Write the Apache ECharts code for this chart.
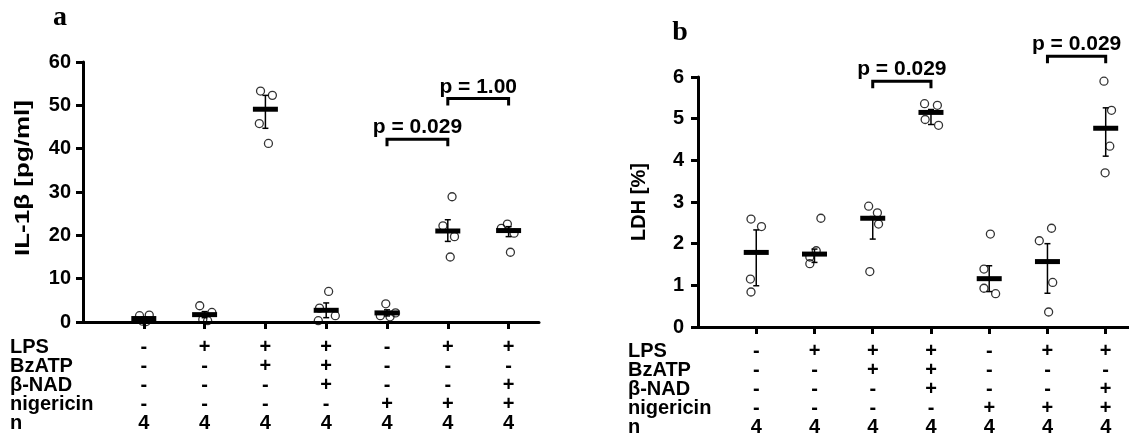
<!DOCTYPE html>
<html>
<head>
<meta charset="utf-8">
<script src="https://cdn.jsdelivr.net/npm/echarts@6/dist/echarts.min.js"></script>
<style>html,body{margin:0;padding:0;background:#fff}#chart{width:1129px;height:439px}</style>
</head>
<body>
<div id="chart"></div>
<script>
// treatment table, same for both panels
var lps       = ['-', '+', '+', '+', '-', '+', '+'];
var bzatp     = ['-', '-', '+', '+', '-', '-', '-'];
var bnad      = ['-', '-', '-', '+', '-', '-', '+'];
var nigericin = ['-', '-', '-', '-', '+', '+', '+'];
var nCount    = [4, 4, 4, 4, 4, 4, 4];
var rowNames  = ['LPS', 'BzATP', 'β-NAD', 'nigericin', 'n'];

// panel a : IL-1β [pg/ml]
var ilPoints = [[1.45, 1.6, 0.2, 0.1], [3.75, 2.2, 0.6, 0.3], [53.3, 52.3, 45.8, 41.2], [7.05, 3.2, 1.45, 0.3],
                [4.2, 2.1, 1.45, 1.2], [28.9, 22.2, 19.7, 15.0], [22.6, 21.6, 20.5, 16.1]];
var ilJitter = [[-0.07, 0.09, -0.02, 0.04], [-0.08, 0.12, -0.03, 0.05], [-0.08, 0.115, -0.10, 0.05], [0.04, -0.11, 0.15, -0.13],
                [-0.02, 0.14, -0.11, 0.05], [0.07, -0.08, 0.11, 0.04], [-0.02, -0.12, 0.09, 0.03]];
var ilMean = [0.8, 1.7, 49.1, 2.7, 2.1, 21.0, 21.1];
var ilLow  = [0.4, 1.0, 44.7, 1.0, 1.4, 18.6, 19.7];
var ilHigh = [1.2, 2.4, 52.3, 4.4, 2.8, 23.6, 22.0];
var ilBrackets = [[5, 6, 42.2, 'p = 0.029'], [6, 7, 51.6, 'p = 1.00']];

// panel b : LDH [%]
var ldhPoints = [[2.59, 2.41, 1.15, 0.84], [2.61, 1.83, 1.68, 1.52], [2.90, 2.74, 2.47, 1.33], [5.36, 5.32, 4.98, 4.84],
                 [2.23, 1.39, 0.93, 0.80], [2.37, 2.07, 1.07, 0.36], [5.90, 5.20, 4.34, 3.70]];
var ldhJitter = [[-0.09, 0.09, -0.10, -0.09], [0.11, 0.03, -0.08, -0.08], [-0.07, 0.08, 0.10, -0.05], [-0.11, 0.11, -0.10, 0.13],
                 [0.02, -0.09, -0.09, 0.11], [0.07, -0.14, 0.09, 0.02], [-0.03, 0.10, 0.07, -0.01]];
var ldhMean = [1.79, 1.75, 2.61, 5.15, 1.16, 1.57, 4.77];
var ldhLow  = [0.99, 1.55, 2.11, 4.86, 0.85, 0.81, 4.10];
var ldhHigh = [2.33, 1.87, 2.65, 5.22, 1.47, 2.00, 5.26];
var ldhBrackets = [[3, 4, 5.90, 'p = 0.029'], [6, 7, 6.50, 'p = 0.029']];

var FONT = "'Liberation Sans', Arial, sans-serif";
var catValues = [1, 2, 3, 4, 5, 6, 7];

function tableLabel(v) {
    var i = Math.round(v) - 1;
    if (i < 0 || i > 6) return '';
    return [lps[i], bzatp[i], bnad[i], nigericin[i], nCount[i]].join('\n');
}

function renderMean(params, api) {
    var x = api.value(0);
    var c = api.coord([x, api.value(1)]);
    var lo = api.coord([x, api.value(2)]);
    var hi = api.coord([x, api.value(3)]);
    var thin = {stroke: '#000', lineWidth: 1.5};
    return {
        type: 'group',
        children: [
            {type: 'line', shape: {x1: c[0], y1: lo[1], x2: c[0], y2: hi[1]}, style: thin},
            {type: 'line', shape: {x1: c[0] - 3, y1: lo[1], x2: c[0] + 3, y2: lo[1]}, style: thin},
            {type: 'line', shape: {x1: c[0] - 3, y1: hi[1], x2: c[0] + 3, y2: hi[1]}, style: thin},
            {type: 'line', shape: {x1: c[0] - 12.5, y1: c[1], x2: c[0] + 12.5, y2: c[1]}, style: {stroke: '#000', lineWidth: 5}}
        ]
    };
}

function bracketRenderer(list) {
    return function (params, api) {
        var a = api.coord([api.value(0), api.value(2)]);
        var b = api.coord([api.value(1), api.value(2)]);
        return {
            type: 'group',
            children: [
                {type: 'polyline', shape: {points: [[a[0], a[1] + 7], [a[0], a[1]], [b[0], b[1]], [b[0], b[1] + 7]]},
                 style: {stroke: '#000', lineWidth: 3, fill: null}},
                {type: 'text', x: (a[0] + b[0]) / 2, y: a[1] - 1,
                 style: {text: list[params.dataIndex][3], font: 'bold 21px ' + FONT, fill: '#000',
                         align: 'center', verticalAlign: 'bottom', textAlign: 'center', textVerticalAlign: 'bottom'}}
            ]
        };
    };
}

function panelSeries(idx, points, jitter, mean, low, high, brackets) {
    var pts = [];
    for (var g = 0; g < points.length; g++) {
        for (var j = 0; j < points[g].length; j++) {
            pts.push([g + 1 + jitter[g][j], points[g][j]]);
        }
    }
    var bars = [];
    for (var i = 0; i < mean.length; i++) bars.push([i + 1, mean[i], low[i], high[i]]);
    return [
        {type: 'custom', xAxisIndex: idx, yAxisIndex: idx, renderItem: renderMean, data: bars, z: 2, clip: false},
        {type: 'scatter', xAxisIndex: idx, yAxisIndex: idx, data: pts, symbol: 'circle', symbolSize: 8, z: 3,
         itemStyle: {color: 'rgba(255,255,255,0)', borderColor: '#000', borderWidth: 1.3}},
        {type: 'custom', xAxisIndex: idx, yAxisIndex: idx, renderItem: bracketRenderer(brackets), clip: false, z: 4,
         data: brackets.map(function (b) { return [b[0], b[1], b[2]]; })}
    ];
}

function xAxisFor(idx, max, margin) {
    return {
        type: 'value', gridIndex: idx, min: 0, max: max, interval: 1,
        splitLine: {show: false},
        axisLine: {onZero: false, lineStyle: {color: '#000', width: 3}},
        axisTick: {customValues: catValues, length: 7, lineStyle: {color: '#000', width: 3}},
        axisLabel: {customValues: catValues, formatter: tableLabel, margin: margin, lineHeight: 19,
                    fontSize: 20, fontWeight: 'bold', color: '#000', fontFamily: FONT}
    };
}

function yAxisFor(idx, max, interval, margin) {
    return {
        type: 'value', gridIndex: idx, min: 0, max: max, interval: interval,
        splitLine: {show: false},
        axisLine: {show: true, lineStyle: {color: '#000', width: 3}},
        axisTick: {show: true, length: 7, lineStyle: {color: '#000', width: 3}},
        axisLabel: {margin: margin, fontSize: 20, fontWeight: 'bold', color: '#000', fontFamily: FONT}
    };
}

function txt(text, x, y, font, extra) {
    var el = {type: 'text', x: x, y: y, z: 10,
              style: {text: text, font: font, fill: '#000', align: 'center', verticalAlign: 'middle',
                      textAlign: 'center', textVerticalAlign: 'middle'}};
    for (var k in extra) el[k] = extra[k];
    return el;
}

function rowBlock(x, y) {
    return {type: 'text', x: x, y: y, z: 10,
            style: {text: rowNames.join('\n'), font: 'bold 20px ' + FONT, lineHeight: 19, fill: '#000',
                    align: 'left', verticalAlign: 'top', textAlign: 'left', textVerticalAlign: 'top'}};
}

var chart = echarts.init(document.getElementById('chart'));
chart.setOption({
    animation: false,
    backgroundColor: '#fff',
    grid: [
        {left: 83, top: 62, width: 456, height: 260},
        {left: 698, top: 77, width: 432, height: 250}
    ],
    xAxis: [xAxisFor(0, 7.5, 16), xAxisFor(1, 7.4, 15)],
    yAxis: [yAxisFor(0, 60, 10, 12), yAxisFor(1, 6, 1, 14)],
    series: panelSeries(0, ilPoints, ilJitter, ilMean, ilLow, ilHigh, ilBrackets)
        .concat(panelSeries(1, ldhPoints, ldhJitter, ldhMean, ldhLow, ldhHigh, ldhBrackets)),
    graphic: [
        txt('a', 60, 18, "bold 28px 'Liberation Serif', 'Times New Roman', serif"),
        txt('b', 680, 33, "bold 28px 'Liberation Serif', 'Times New Roman', serif"),
        txt('IL-1β [pg/ml]', 23, 178, 'bold 20px ' + FONT, {rotation: Math.PI / 2, scaleX: 1.3}),
        txt('LDH [%]', 639, 202, 'bold 20px ' + FONT, {rotation: Math.PI / 2}),
        rowBlock(10, 338),
        rowBlock(628, 342)
    ]
});
</script>
</body>
</html>
